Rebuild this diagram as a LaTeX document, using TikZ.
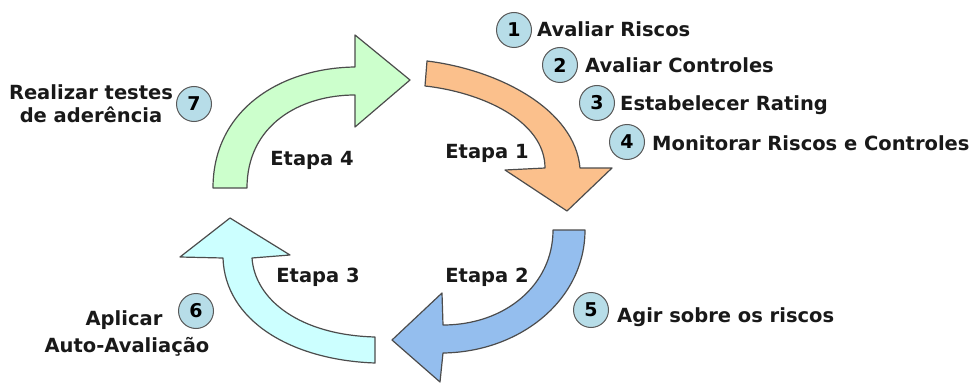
\documentclass[tikz,border=0pt]{standalone}
\usepackage{fontspec}
\setmainfont{DejaVu Sans}
\begin{document}
\begin{tikzpicture}[x=1pt,y=-1pt,
  arrowshape/.style={draw=black!70, line width=1.2pt, line join=round},
  numcirc/.style={circle, draw=black!65, line width=1pt, fill=numfill, minimum size=35pt, inner sep=0pt, font=\fontsize{19}{20}\selectfont\bfseries},
  lbl/.style={font=\fontsize{19.5}{22}\selectfont\bfseries, inner sep=0pt, text=black!90},
]
\definecolor{orangefill}{HTML}{FBC08C}
\definecolor{bluefill}{HTML}{94BEEE}
\definecolor{cyanfill}{HTML}{CCFFFF}
\definecolor{greenfill}{HTML}{CCFFCC}
\definecolor{numfill}{HTML}{B7DDE8}
\useasboundingbox (0,0) rectangle (971,385);

% Etapa 1 (orange)
\path[arrowshape, fill=orangefill] (427,61) .. controls (500,70) and (575,110) .. (580,168)
  -- (612,168) -- (567,211) -- (505,170) -- (545,168)
  .. controls (545,120) and (480,92) .. (425,86) -- cycle;
% Etapa 2 (blue)
\path[arrowshape, fill=bluefill] (585,230) .. controls (585,300) and (520,352) .. (443,353)
  -- (440,382) -- (392,340) -- (442,293) -- (443,325)
  .. controls (505,325) and (553,285) .. (553,230) -- cycle;
% Etapa 3 (cyan)
\path[arrowshape, fill=cyanfill] (375,363) .. controls (290,360) and (225,320) .. (223,258)
  -- (180,257) -- (230,218) -- (290,255) -- (252,258)
  .. controls (255,300) and (300,335) .. (375,337) -- cycle;
% Etapa 4 (green)
\path[arrowshape, fill=greenfill] (213,188) .. controls (213,110) and (280,68) .. (355,67)
  -- (355,35) -- (410,80) -- (355,127) -- (355,95)
  .. controls (300,95) and (247,125) .. (247,188) -- cycle;

\node[lbl, anchor=base] (e1) at (487,158) {Etapa 1};
\node[lbl, anchor=base] (e2) at (487,282) {Etapa 2};
\node[lbl, anchor=base] (e3) at (318,282) {Etapa 3};
\node[lbl, anchor=base] (e4) at (312,165) {Etapa 4};

\node[numcirc] (c1) at (514,30) {1};
\node[numcirc] (c2) at (560,65) {2};
\node[numcirc] (c3) at (597,103) {3};
\node[numcirc] (c4) at (627,142) {4};
\node[numcirc] (c5) at (591,310) {5};
\node[numcirc] (c6) at (196,311) {6};
\node[numcirc] (c7) at (194,104) {7};

\node[lbl, anchor=base west] (t1) at (537,37) {Avaliar Riscos};
\node[lbl, anchor=base west] (t2) at (585,73) {Avaliar Controles};
\node[lbl, anchor=base west] (t3) at (620,111) {Estabelecer Rating};
\node[lbl, anchor=base west] (t4) at (652,150) {Monitorar Riscos e Controles};
\node[lbl, anchor=base west] (t5) at (617,322) {Agir sobre os riscos};
\node[lbl, anchor=base] (t6a) at (124,325) {Aplicar};
\node[lbl, anchor=base] (t6b) at (127,352) {Auto-Avaliação};
\node[lbl, anchor=base] (t7a) at (91,100) {Realizar testes};
\node[lbl, anchor=base] (t7b) at (91,122) {de aderência};
\end{tikzpicture}
\end{document}
